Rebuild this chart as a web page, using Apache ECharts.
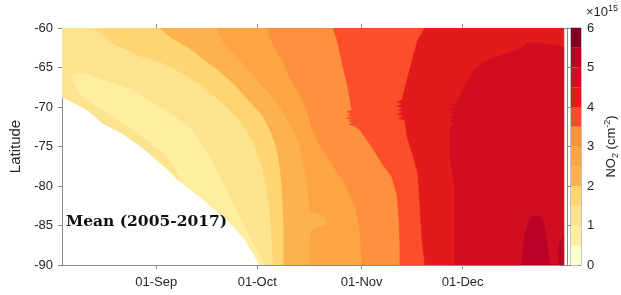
<!DOCTYPE html>
<html>
<head>
<meta charset="utf-8">
<script src="https://cdn.jsdelivr.net/npm/echarts@6/dist/echarts.min.js"></script>
<style>
html, body { margin: 0; padding: 0; background: #fff; }
#chart { width: 621px; height: 295px; }
</style>
</head>
<body>
<div id="chart"></div>
<script>
// day of year (non-leap), latitude
var dayMin = 216, dayMax = 366, dataEnd = 365;
var tickDays = [244, 274, 305, 335];
var tickNames = ['01-Sep', '01-Oct', '01-Nov', '01-Dec'];

// colour levels of the colorbar, NO2 in 1e15 cm-2
var levelEdges = [0, 0.5, 1, 1.5, 2, 2.5, 3, 3.5, 4, 4.5, 5, 5.5, 6];
var levelColors = ['#FFFFCC', '#FFEDA0', '#FEE38F', '#FED572', '#FDB24F', '#FDA545',
                   '#FD913E', '#FC4E2A', '#E31A1C', '#D00D21', '#BD0026', '#800026'];

// contour lines [day, lat]; region to the right of each line is >= level
var dataStart = [[216,-60],[216,-68.7],[223.7,-70.4],[227.9,-72.0],[233.8,-73.3],[239.8,-75.1],[246.6,-77.6],
  [251.0,-79.4],[257.0,-81.4],[260.5,-82.7],[265.3,-84.4],[270.4,-86.8],[274.2,-89.6],[274.8,-90]];
var contour10 = [[216,-60],[216,-68.7],[223.7,-70.4],[227.9,-72.0],[233.8,-73.3],[239.8,-75.1],[246.6,-77.6],[251.0,-79.4],
  [249.6,-78.0],[246.6,-76.1],[242.7,-74.7],[237.7,-73.2],[232.6,-71.8],[228.5,-70.6],[224.3,-69.5],[220.8,-68.1],[219.0,-66.7],[219.0,-65.9],
  [221.9,-65.6],[228.8,-66.6],[235.9,-67.6],[241.8,-69.1],[248.7,-70.9],[253.7,-72.5],[257.6,-74.6],[260.5,-76.7],
  [263.5,-79.2],[266.5,-81.8],[269.5,-84.3],[272.4,-86.8],[276.0,-89.7],[276.3,-90]];
var contour15 = [[225.5,-60],[230.9,-61.9],[238.9,-63.5],[245.7,-64.4],[252.5,-65.9],[257.6,-67.3],[262.6,-69.1],[267.4,-71.0],
  [270.9,-72.9],[273.3,-74.9],[275.4,-77.5],[276.6,-80],[277.5,-82.4],[278.1,-84.9],[278.4,-87.5],[278.7,-90]];
var contour20 = [[245.1,-60],[248.7,-61.3],[253.7,-62.5],[257.6,-63.8],[262.6,-65.4],[267.4,-67.2],[271.5,-69.2],[275.4,-71.0],
  [277.8,-72.9],[279.6,-74.9],[280.7,-77.5],[281.3,-80],[281.6,-82.4],[281.9,-84.9],[281.9,-87.5],[281.9,-90]];
var contour25 = [[262.0,-60],[264.4,-62.2],[268.9,-64.1],[272.4,-65.9],[275.4,-67.2],[279.3,-69.1],[282.2,-71.0],[284.6,-72.9],
  [286.7,-74.9],[287.9,-77.5],[288.8,-80],[289.4,-82.4],[289.7,-83.3],[292.0,-83.5],[294.4,-84.1],[294.7,-84.8],[292.0,-85.3],
  [290.0,-85.8],[289.7,-87.5],[289.7,-90]];
var contour30 = [[276.9,-60],[278.7,-62.2],[281.6,-64.2],[283.7,-66.3],[286.7,-68.5],[288.8,-70.5],[290.3,-72.7],[292.6,-74.9],
  [296.5,-77.5],[300.3,-80],[303.0,-82.4],[304.2,-84.9],[304.8,-87.5],[305.1,-90]];
var contour35 = [[296.5,-60],[297.7,-61.5],[299.2,-64.4],[300.9,-67.5],[302.1,-70.4],[300.6,-70.6],[302.1,-70.8],[300.9,-71.0],
  [302.3,-71.2],[300.4,-71.4],[302.4,-71.6],[301.0,-71.8],[302.6,-72.0],[301.2,-72.2],[303.0,-72.4],[304.5,-72.9],
  [306.6,-74.2],[308.1,-75.1],[311.0,-77.1],[314.0,-78.9],[315.5,-81.1],[316.1,-84.3],[316.4,-87.5],[316.4,-90]];
var contour40 = [[323.8,-60],[321.7,-61.5],[320.0,-64.1],[317.9,-67.5],[317.0,-69.1],[315.6,-69.4],[317.2,-69.6],[315.4,-69.9],
  [317.3,-70.1],[315.9,-70.4],[317.4,-70.6],[315.5,-70.9],[317.6,-71.1],[316.1,-71.4],[317.8,-71.7],[318.5,-73.8],
  [320.0,-75.8],[321.7,-78.4],[322.3,-82.2],[322.9,-86.5],[323.8,-90]];
var contour45 = [[365,-62.4],[359.5,-62.0],[354.4,-61.9],[351.4,-62.8],[347.6,-63.3],[344.6,-63.7],[341.6,-64.3],[338.7,-65.1],
  [336.3,-67.0],[334.8,-68.1],[333.3,-69.5],[331.0,-69.8],[333.1,-70.0],[330.7,-70.3],[332.9,-70.5],[331.2,-70.8],[332.8,-71.0],
  [330.6,-71.3],[332.6,-71.5],[331.0,-71.8],[332.4,-72.1],[331.6,-72.5],[331.2,-73.5],[331.2,-75.8],[331.8,-78.0],
  [332.7,-80.1],[332.7,-84.3],[332.7,-90]];
var contour50a = [[352.6,-90],[352.9,-88.1],[353.5,-86.2],[354.4,-84.6],[355.6,-83.8],[358.0,-83.8],[358.9,-84.6],
  [359.7,-86.2],[360.3,-88.1],[360.9,-90]];
var contour50b = [[365,-86.3],[363.9,-87.1],[363.3,-88.4],[363.6,-90]];

var regions = [
  { level: 0.5, line: dataStart },
  { level: 1.0, line: contour10 },
  { level: 1.5, line: contour15 },
  { level: 2.0, line: contour20 },
  { level: 2.5, line: contour25 },
  { level: 3.0, line: contour30 },
  { level: 3.5, line: contour35 },
  { level: 4.0, line: contour40 },
  { level: 4.5, line: contour45 },
  { level: 5.0, line: contour50a },
  { level: 5.0, line: contour50b }
];

function colorOf(v) {
  return levelColors[Math.round(v / 0.5)];
}

var axisGray = '#8a8a8a';
var textColor = '#262626';
var fontFamily = 'Liberation Sans, Arial, sans-serif';

var chart = echarts.init(document.getElementById('chart'));

var xBase = {
  type: 'value', gridIndex: 0, min: dayMin, max: dayMax,
  axisLine: { show: true, lineStyle: { color: axisGray } },
  axisTick: { show: true, inside: false, length: 4, customValues: tickDays, lineStyle: { color: axisGray } },
  splitLine: { show: false }
};
var yBase = {
  type: 'value', gridIndex: 0, min: -90, max: -60, interval: 5,
  axisLine: { show: true, lineStyle: { color: axisGray } },
  axisTick: { show: true, inside: false, length: 4, lineStyle: { color: axisGray } },
  splitLine: { show: false }
};

var option = {
  animation: false,
  textStyle: { fontFamily: fontFamily },
  grid: [
    { left: 62, top: 28, width: 505, height: 237 },
    { left: 571, top: 28, width: 16, height: 237, show: true, borderColor: axisGray, borderWidth: 1 }
  ],
  xAxis: [
    Object.assign({}, xBase, {
      position: 'bottom',
      axisLabel: {
        customValues: tickDays, margin: 11, fontSize: 13, color: textColor,
        formatter: function (v) { return tickNames[tickDays.indexOf(v)] || ''; }
      }
    }),
    Object.assign({}, xBase, { position: 'top', axisLabel: { show: false } }),
    { type: 'category', gridIndex: 1, data: [''], show: false }
  ],
  yAxis: [
    Object.assign({}, yBase, {
      position: 'left',
      name: 'Latitude', nameLocation: 'middle', nameGap: 34, nameRotate: 90,
      nameTextStyle: { fontSize: 15, color: textColor },
      axisLabel: { margin: 9, fontSize: 13, color: textColor }
    }),
    Object.assign({}, yBase, { position: 'right', axisLabel: { show: false } }),
    {
      type: 'value', gridIndex: 1, position: 'right', min: 0, max: 6, interval: 1,
      axisLine: { show: false },
      axisTick: { show: true, inside: true, length: 3, lineStyle: { color: axisGray } },
      splitLine: { show: false },
      axisLabel: { margin: 6, fontSize: 13, color: textColor },
      name: 'NO{sub|2} (cm{sup|-2})', nameLocation: 'middle', nameRotate: 90, nameGap: 22,
      nameTextStyle: {
        fontSize: 13, color: textColor,
        rich: {
          sub: { fontSize: 9, color: textColor, padding: [8, 0, 0, 0] },
          sup: { fontSize: 9, color: textColor, padding: [0, 0, 8, 0] }
        }
      }
    }
  ],
  graphic: [
    {
      type: 'text', left: 586, top: 4, silent: true,
      style: {
        text: '×10{s|15}', fill: textColor, fontSize: 13, fontFamily: fontFamily,
        rich: { s: { fontSize: 9, fill: textColor, padding: [0, 0, 8, 0] } }
      }
    },
    {
      type: 'text', left: 66, top: 214, silent: true, z: 100,
      style: { text: 'Mean (2005-2017)', fill: '#111', fontSize: 15.5, fontWeight: 'bold', fontFamily: 'DejaVu Serif, serif' }
    }
  ],
  series: [
    {
      type: 'custom',
      xAxisIndex: 0, yAxisIndex: 0,
      silent: true, clip: true,
      data: regions.map(function (r, i) { return [r.line[0][0], r.line[0][1], i]; }),
      encode: { x: 0, y: 1 },
      renderItem: function (params, api) {
        var r = regions[params.dataIndex];
        var line = r.line;
        var pts = line.concat([[dataEnd, line[line.length - 1][1]], [dataEnd, line[0][1]]]);
        var c = colorOf(r.level);
        return {
          type: 'polygon',
          shape: { points: pts.map(function (p) { return api.coord(p); }) },
          style: { fill: c, stroke: c, lineWidth: 0.6 }
        };
      }
    }
  ].concat(levelColors.map(function (c, i) {
    return {
      type: 'bar', xAxisIndex: 2, yAxisIndex: 2, stack: 'cbar', silent: true,
      barWidth: '100%', itemStyle: { color: c },
      data: [levelEdges[i + 1] - levelEdges[i]]
    };
  }))
};

chart.setOption(option);
</script>
</body>
</html>
